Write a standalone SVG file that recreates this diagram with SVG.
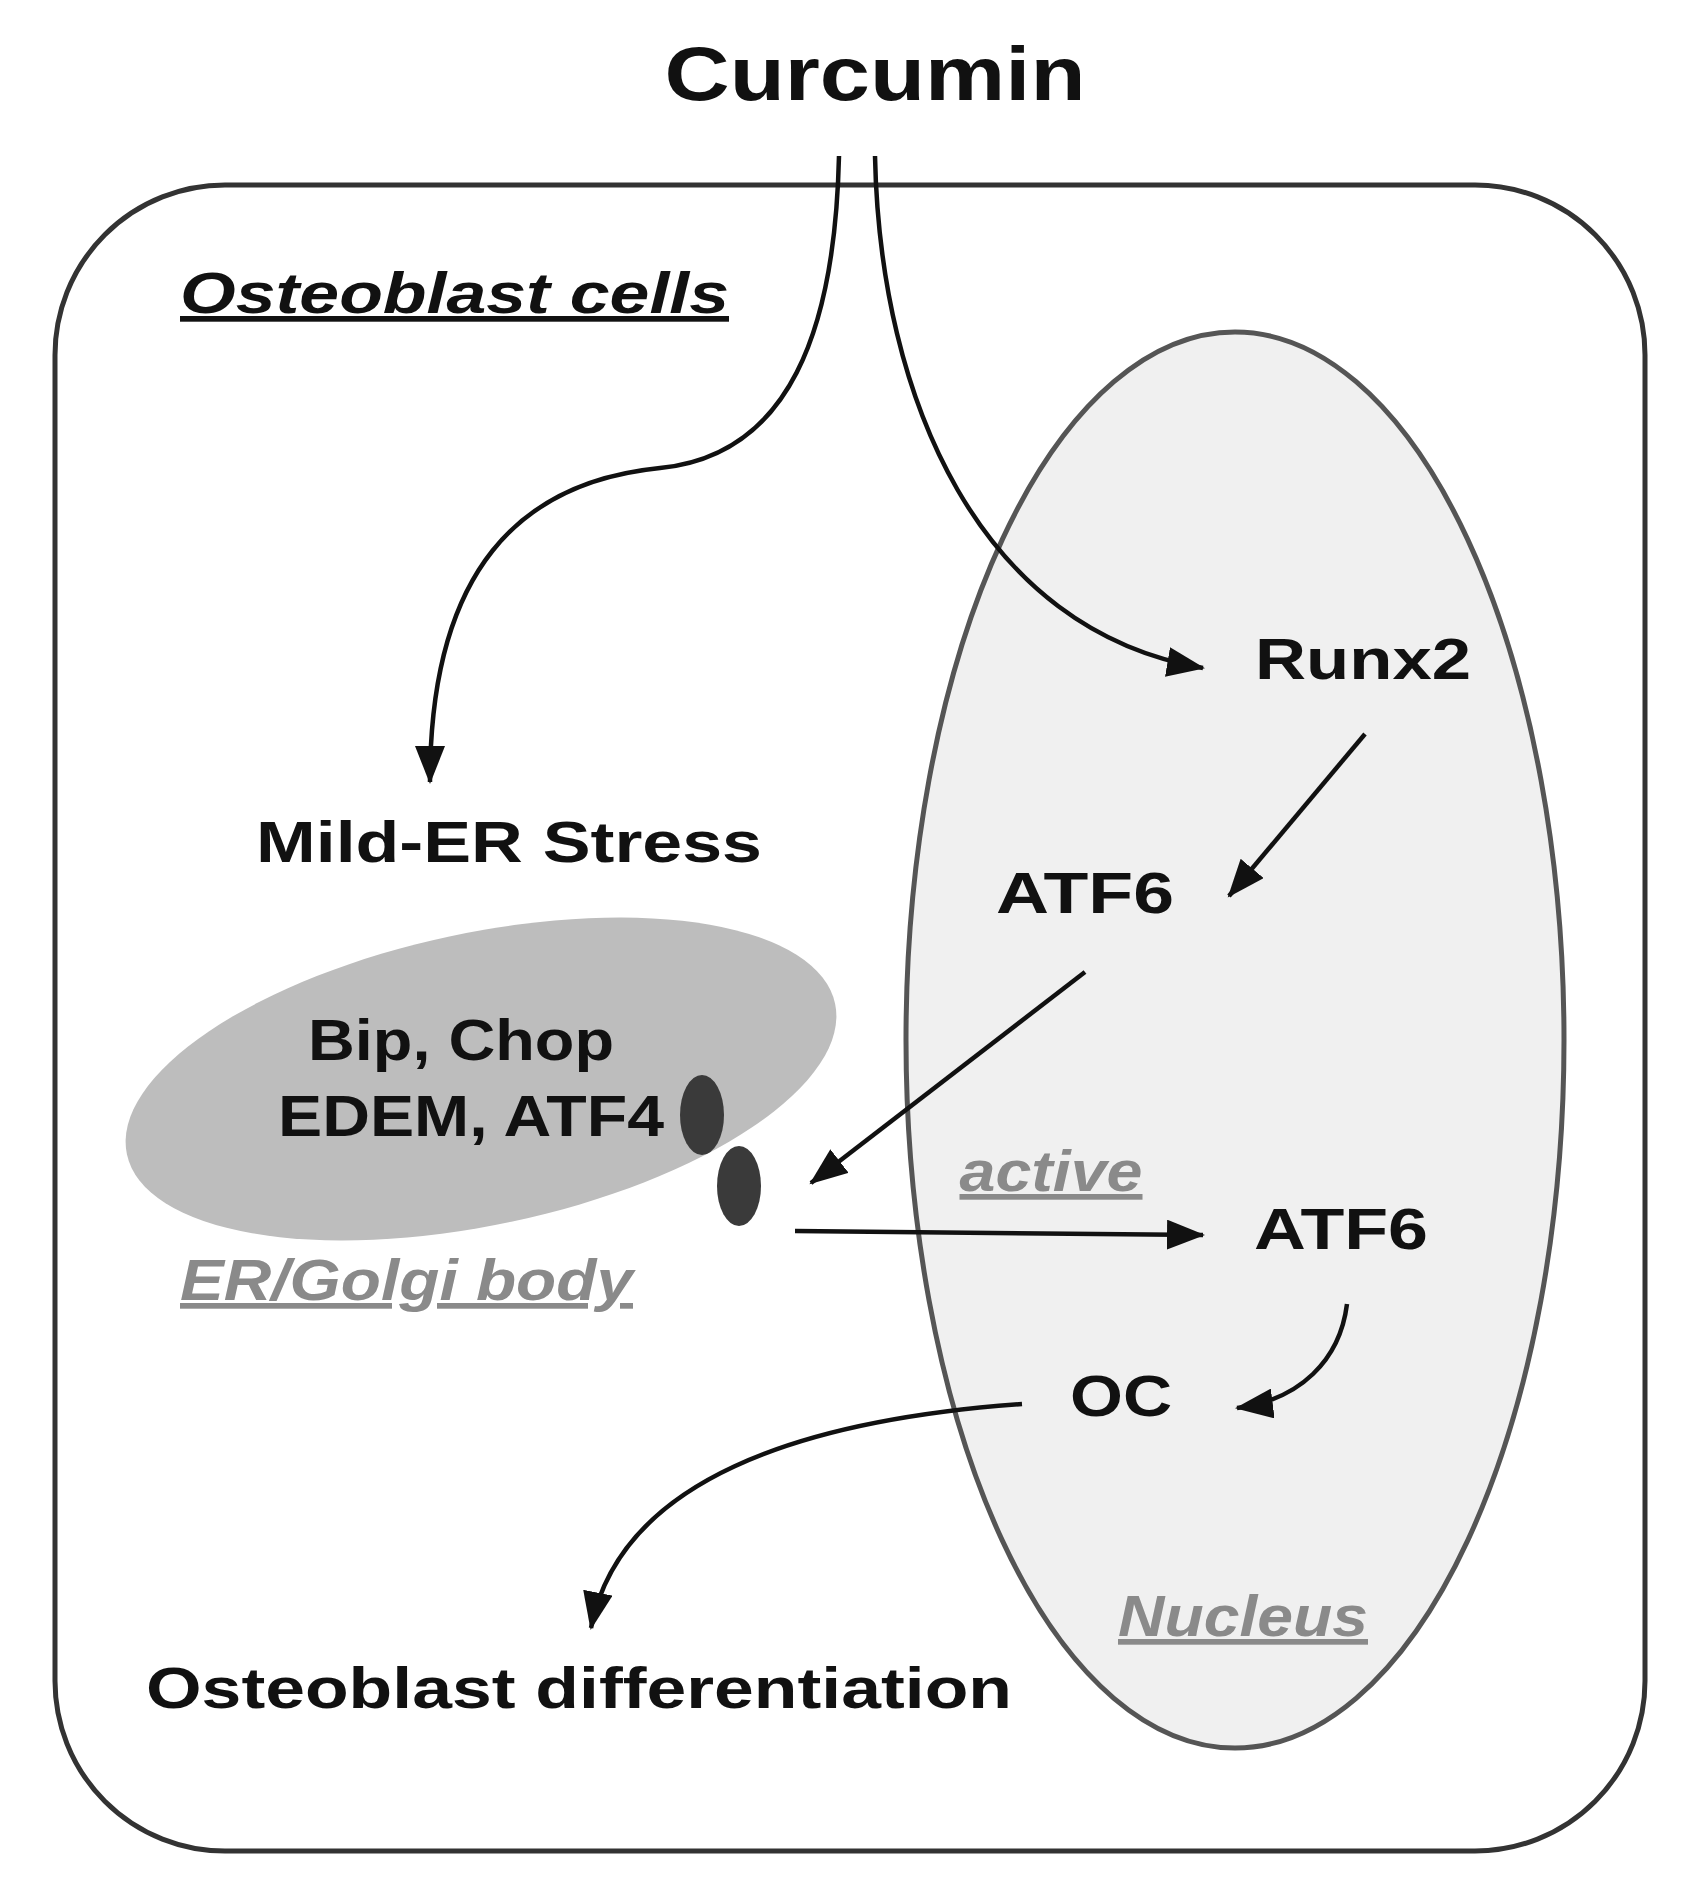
<svg xmlns="http://www.w3.org/2000/svg" width="1694" height="1899" viewBox="0 0 1694 1899">
<style>
text{font-family:"Liberation Sans",Arial,sans-serif;font-weight:bold;fill:#111}
.lab{font-size:57px}
.it{font-style:italic;text-decoration:underline}
.gray{fill:#8a8a8a}
.c{fill:none;stroke:#111;stroke-width:4.5;marker-end:url(#ah)}
</style>
<defs>
<marker id="ah" markerUnits="userSpaceOnUse" markerWidth="40" markerHeight="30" refX="36" refY="15" orient="auto">
<path d="M0,0 L38,15 L0,30 Z" fill="#111"/>
</marker>
</defs>
<rect width="1694" height="1899" fill="#fff"/>
<g id="cell"><rect x="55" y="185" width="1590" height="1666" rx="170" fill="none" stroke="#333" stroke-width="5"/>
<text class="lab it" x="180" y="313" textLength="549" lengthAdjust="spacingAndGlyphs">Osteoblast cells</text></g>
<g id="nucleus"><ellipse cx="1235" cy="1040" rx="329" ry="708" fill="#f0f0f0" stroke="#555" stroke-width="5"/>
<text class="lab it gray" x="1243" y="1636" text-anchor="middle" textLength="250" lengthAdjust="spacingAndGlyphs">Nucleus</text></g>
<g id="er"><ellipse cx="481" cy="1079" rx="362" ry="146" transform="rotate(-12 481 1079)" fill="#bdbdbd"/>
<ellipse cx="702" cy="1115" rx="22" ry="40" fill="#3a3a3a"/>
<ellipse cx="739" cy="1186" rx="22" ry="40" fill="#3a3a3a"/>
<text class="lab" x="461" y="1060" text-anchor="middle" textLength="306" lengthAdjust="spacingAndGlyphs">Bip, Chop</text>
<text class="lab" x="471" y="1136" text-anchor="middle" textLength="386" lengthAdjust="spacingAndGlyphs">EDEM, ATF4</text>
<text class="lab it gray" x="180" y="1300" textLength="453" lengthAdjust="spacingAndGlyphs">ER/Golgi body</text></g>
<g id="curcumin"><text x="875" y="100" text-anchor="middle" font-size="76" textLength="421" lengthAdjust="spacingAndGlyphs">Curcumin</text></g>
<g id="mild"><text class="lab" x="509" y="862" text-anchor="middle" textLength="506" lengthAdjust="spacingAndGlyphs">Mild-ER Stress</text></g>
<g id="runx2"><text class="lab" x="1363" y="679" text-anchor="middle" textLength="216" lengthAdjust="spacingAndGlyphs">Runx2</text></g>
<g id="atf6a"><text class="lab" x="1085" y="913" text-anchor="middle" textLength="178" lengthAdjust="spacingAndGlyphs">ATF6</text></g>
<g id="atf6b"><text class="lab it gray" x="1051" y="1191" text-anchor="middle" textLength="183" lengthAdjust="spacingAndGlyphs">active</text>
<text class="lab" x="1341" y="1249" text-anchor="middle" textLength="174" lengthAdjust="spacingAndGlyphs">ATF6</text></g>
<g id="oc"><text class="lab" x="1121" y="1416" text-anchor="middle" textLength="102" lengthAdjust="spacingAndGlyphs">OC</text></g>
<g id="diff"><text class="lab" x="579" y="1708" text-anchor="middle" textLength="866" lengthAdjust="spacingAndGlyphs">Osteoblast differentiation</text></g>
<g id="connectors">
<path class="c" d="M839,156 C835,330 790,455 660,468 C520,482 430,570 430,782"/>
<path class="c" d="M875,156 C880,400 980,630 1203,668"/>
<path class="c" d="M1365,734 L1229,896"/>
<path class="c" d="M1085,972 L811,1183"/>
<path class="c" d="M795,1231 L1203,1235"/>
<path class="c" d="M1347,1304 C1340,1360 1300,1400 1237,1408"/>
<path class="c" d="M1022,1404 C800,1420 620,1480 591,1628"/>
</g>
</svg>
